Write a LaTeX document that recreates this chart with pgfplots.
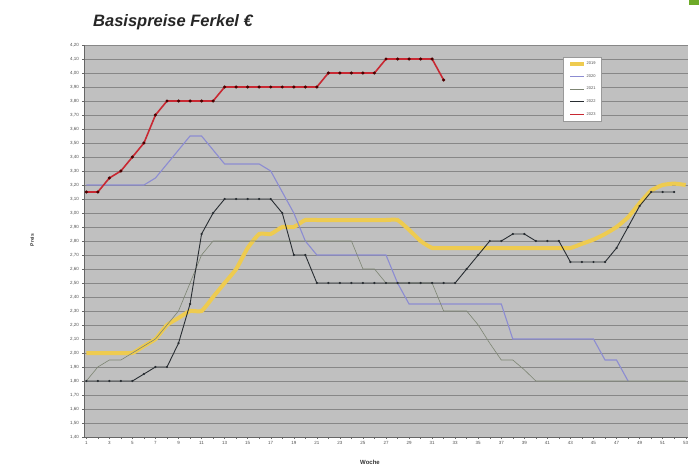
\documentclass[border=0pt]{standalone}
\usepackage{pgfplots}
\pgfplotsset{compat=1.18}
\usepackage{fontspec}
\setmainfont{Liberation Sans}
\definecolor{plotbg}{RGB}{192,192,192}
\definecolor{gridc}{RGB}{135,135,135}
\definecolor{c2019}{RGB}{238,203,80}
\definecolor{c2020}{RGB}{140,140,210}
\definecolor{c2021}{RGB}{125,133,115}
\definecolor{c2022}{RGB}{40,45,50}
\definecolor{c2023}{RGB}{200,40,50}
\definecolor{tickc}{RGB}{80,80,80}
\definecolor{logo}{RGB}{110,170,40}
\begin{document}
\begin{tikzpicture}
\path[use as bounding box] (0,0) rectangle (699pt,467pt);
\fill[logo] (689pt,462pt) rectangle (699pt,467pt);
\node[anchor=base west, inner sep=0pt, font=\fontsize{16.5}{18}\selectfont\bfseries\itshape, text=black!85] at (93pt,440pt) {Basispreise Ferkel €};
\node[rotate=90, inner sep=0pt, font=\fontsize{5}{6}\selectfont\bfseries, text=black!80] at (32pt,227pt) {Preis};
\node[anchor=north, inner sep=0pt, font=\fontsize{6}{7}\selectfont\bfseries, text=black!80] at (370pt,7pt) {Woche};
\begin{axis}[
  at={(84pt,30pt)}, anchor=south west,
  width=604pt, height=392pt, scale only axis,
  xmin=0.8, xmax=53.2, ymin=1.40, ymax=4.20,
  axis background/.style={fill=plotbg},
  axis lines*=left,
  axis line style={draw=black!60, line width=0.6pt},
  xtick={1,3,...,53}, minor x tick num=1,
  ytick={1.4,1.5,...,4.25},
  ymajorgrids, major grid style={draw=gridc, line width=1pt},
  tick align=outside, major tick length=2pt, minor tick length=2pt,
  tick style={draw=black!60, line width=0.4pt},
  /pgf/number format/assume math mode=true,
  yticklabel style={/pgf/number format/fixed, /pgf/number format/fixed zerofill, /pgf/number format/precision=2, /pgf/number format/use comma, inner sep=1pt, xshift=-2pt},
  ticklabel style={font=\fontsize{4.5}{5}\selectfont, text=tickc},
  xticklabel style={inner sep=1pt, yshift=-1pt},
  legend style={at={(0.793,0.969)}, anchor=north west, fill=white, draw=black!40,
    font=\fontsize{4}{5}\selectfont, text=tickc, inner xsep=5pt, inner ysep=4pt, row sep=7.3pt,
    nodes={inner sep=0.5pt}},
  legend cell align=left,
  legend image code/.code={\draw[#1] (0pt,0pt) -- (14pt,0pt);},
]
\addplot[c2019, line width=4pt, smooth, tension=0.3] coordinates {
(1,2.00)(2,2.00)(3,2.00)(4,2.00)(5,2.00)(6,2.05)(7,2.10)(8,2.20)(9,2.25)(10,2.30)
(11,2.30)(12,2.40)(13,2.50)(14,2.60)(15,2.75)(16,2.85)(17,2.85)(18,2.90)(19,2.90)(20,2.95)
(21,2.95)(22,2.95)(23,2.95)(24,2.95)(25,2.95)(26,2.95)(27,2.95)(28,2.95)(29,2.88)(30,2.80)
(31,2.75)(32,2.75)(33,2.75)(34,2.75)(35,2.75)(36,2.75)(37,2.75)(38,2.75)(39,2.75)(40,2.75)
(41,2.75)(42,2.75)(43,2.75)(44,2.78)(45,2.81)(46,2.85)(47,2.90)(48,2.97)(49,3.07)(50,3.16)
(51,3.20)(52,3.21)(53,3.20)};
\addlegendentry{2019}
\addplot[c2020, line width=1.1pt] coordinates {
(1,3.20)(2,3.20)(3,3.20)(4,3.20)(5,3.20)(6,3.20)(7,3.25)(8,3.35)(9,3.45)(10,3.55)
(11,3.55)(12,3.45)(13,3.35)(14,3.35)(15,3.35)(16,3.35)(17,3.30)(18,3.15)(19,3.00)(20,2.80)
(21,2.70)(22,2.70)(23,2.70)(24,2.70)(25,2.70)(26,2.70)(27,2.70)(28,2.50)(29,2.35)(30,2.35)
(31,2.35)(32,2.35)(33,2.35)(34,2.35)(35,2.35)(36,2.35)(37,2.35)(38,2.10)(39,2.10)(40,2.10)
(41,2.10)(42,2.10)(43,2.10)(44,2.10)(45,2.10)(46,1.95)(47,1.95)(48,1.80)};
\addlegendentry{2020}
\addplot[c2021, line width=0.6pt] coordinates {
(1,1.80)(2,1.90)(3,1.95)(4,1.95)(5,2.00)(6,2.05)(7,2.10)(8,2.20)(9,2.30)(10,2.50)
(11,2.70)(12,2.80)(13,2.80)(14,2.80)(15,2.80)(16,2.80)(17,2.80)(18,2.80)(19,2.80)(20,2.80)
(21,2.80)(22,2.80)(23,2.80)(24,2.80)(25,2.60)(26,2.60)(27,2.50)(28,2.50)(29,2.50)(30,2.50)
(31,2.50)(32,2.30)(33,2.30)(34,2.30)(35,2.20)(36,2.07)(37,1.95)(38,1.95)(39,1.88)(40,1.80)
(41,1.80)(42,1.80)(43,1.80)(44,1.80)(45,1.80)(46,1.80)(47,1.80)(48,1.80)(49,1.80)(50,1.80)
(51,1.80)(52,1.80)(53,1.80)};
\addlegendentry{2021}
\addplot[c2022, line width=0.9pt, mark=*, mark size=0.6pt] coordinates {
(1,1.80)(2,1.80)(3,1.80)(4,1.80)(5,1.80)(6,1.85)(7,1.90)(8,1.90)(9,2.07)(10,2.35)
(11,2.85)(12,3.00)(13,3.10)(14,3.10)(15,3.10)(16,3.10)(17,3.10)(18,3.00)(19,2.70)(20,2.70)
(21,2.50)(22,2.50)(23,2.50)(24,2.50)(25,2.50)(26,2.50)(27,2.50)(28,2.50)(29,2.50)(30,2.50)
(31,2.50)(32,2.50)(33,2.50)(34,2.60)(35,2.70)(36,2.80)(37,2.80)(38,2.85)(39,2.85)(40,2.80)
(41,2.80)(42,2.80)(43,2.65)(44,2.65)(45,2.65)(46,2.65)(47,2.75)(48,2.90)(49,3.05)(50,3.15)
(51,3.15)(52,3.15)};
\addlegendentry{2022}
\addplot[c2023, line width=1.6pt, mark=*, mark size=0.6pt, mark options={fill=black!70!red, draw=black!70!red}] coordinates {
(1,3.15)(2,3.15)(3,3.25)(4,3.30)(5,3.40)(6,3.50)(7,3.70)(8,3.80)(9,3.80)(10,3.80)
(11,3.80)(12,3.80)(13,3.90)(14,3.90)(15,3.90)(16,3.90)(17,3.90)(18,3.90)(19,3.90)(20,3.90)
(21,3.90)(22,4.00)(23,4.00)(24,4.00)(25,4.00)(26,4.00)(27,4.10)(28,4.10)(29,4.10)(30,4.10)
(31,4.10)(32,3.95)};
\addlegendentry{2023}
\end{axis}
\end{tikzpicture}
\end{document}
